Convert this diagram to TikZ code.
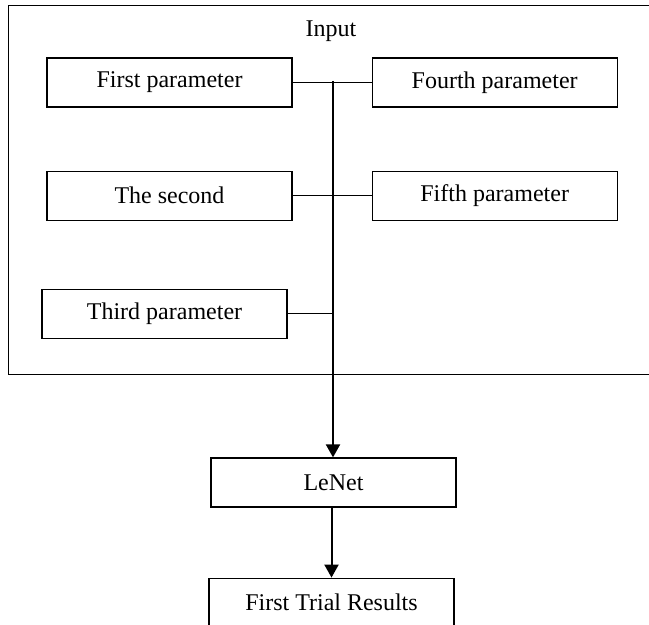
\documentclass[tikz,border=0pt]{standalone}
\usepackage{fontspec}
\setmainfont{Liberation Serif}
\usetikzlibrary{arrows.meta, positioning}
\tikzset{
    parbox/.style={draw, line width=0.6pt, minimum width=122.5pt, minimum height=24.5pt, inner sep=0pt},
    flow/.style={line width=1pt, -{Triangle[length=6.5pt,width=7pt]}}
}
\begin{document}
\begin{tikzpicture}[font=\fontsize{12}{14}\selectfont]
        \clip (0,0) rectangle (324.5pt,-312.5pt);
        \node[draw, line width=0.6pt, minimum width=346pt, minimum height=184.5pt, anchor=north west] (inbox) at (4pt,-2.5pt) {};
        \node (input) at (165.5pt,-15.5pt) {Input};
        \node[parbox] (first) at (84.75pt,-41.25pt) {First parameter};
        \node[parbox, below=31.5pt of first] (second) {The second};
        \node[parbox, below=34pt of second, xshift=-2.5pt] (third) {Third parameter};
        \node[parbox, right=39.5pt of first] (fourth) {Fourth parameter};
        \node[parbox, right=39.5pt of second] (fifth) {Fifth parameter};
        \node[parbox] (lenet) at (166.75pt,-241.25pt) {LeNet};
        \node[parbox, below=35pt of lenet, xshift=-1pt] (res) {First Trial Results};
        \coordinate (top) at (166.5pt,-40.5pt);

        \draw[line width=0.4pt] (first) -- (fourth);
        \draw[line width=0.4pt] (second) -- (fifth);
        \draw[line width=0.4pt] (third) -- (third -| top);
        \draw[flow] (top) -- (top |- lenet.north);
        \draw[flow] (lenet.south -| res) -- (res);
    \end{tikzpicture}
\end{document}
